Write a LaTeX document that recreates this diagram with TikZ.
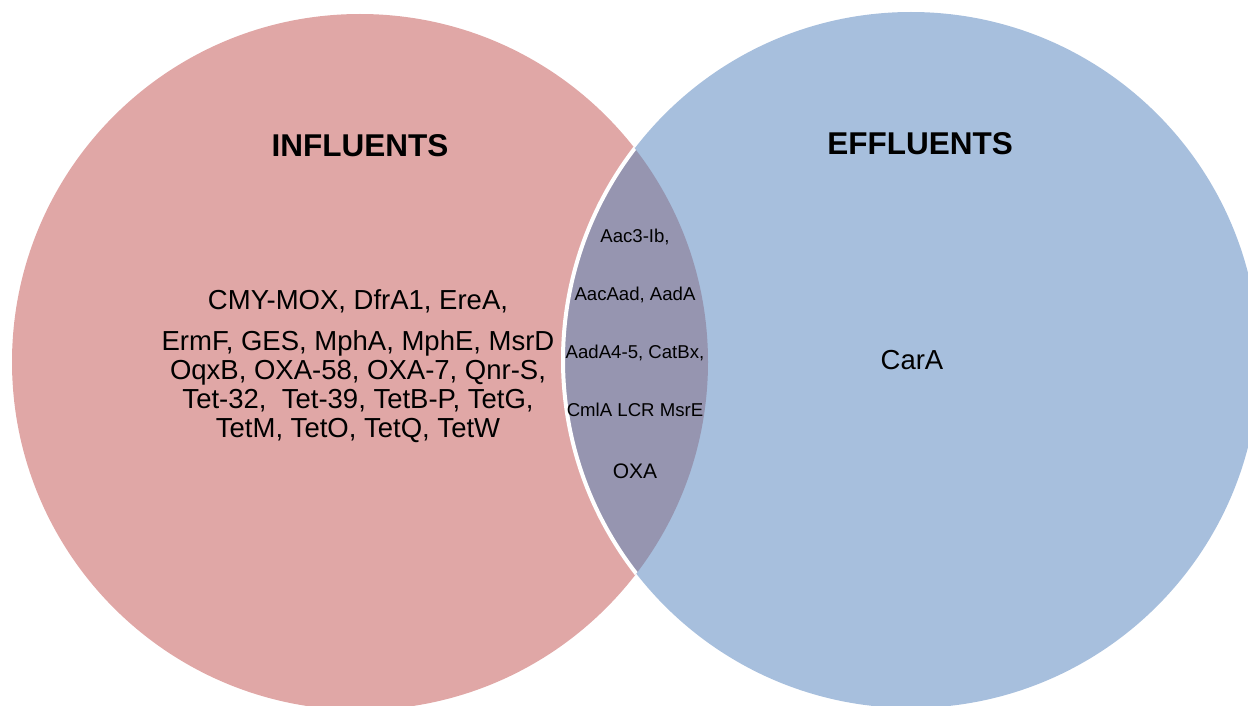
\documentclass[tikz,border=0pt]{standalone}
\usepackage{fontspec}
\setmainfont{Liberation Sans}
\usetikzlibrary{
  positioning,  % Function "of" (e.g. [below=of x])
}
\definecolor{inflcol}{RGB}{224,167,166}
\definecolor{efflcol}{RGB}{167,191,221}
\definecolor{lenscol}{RGB}{150,149,176}
\def\myrad{348pt}
\def\mylensdist{58pt}
\tikzset{
  my title/.style={
    font=\fontsize{31.5}{36}\selectfont\bfseries,
    inner sep=0pt,
    anchor=base
  },
  my list/.style={
    font=\fontsize{27.5}{29}\selectfont,
    align=center,
    inner sep=0pt
  },
  my lens/.style={
    font=\fontsize{18.6}{20}\selectfont,
    inner sep=0pt,
    anchor=base
  },
  white line/.style={
    draw=white,
    line width=4pt
  }
}

\begin{document}
\begin{tikzpicture}[x=1pt,y=-1pt]
\useasboundingbox (0,0) rectangle (1248,706);
\coordinate (infl c) at (360,362);
\coordinate (effl c) at (911,360);
% sets
\fill[inflcol] (infl c) circle[radius=\myrad];
\fill[efflcol] (effl c) circle[radius=\myrad];
\begin{scope}
  \clip (infl c) circle[radius=\myrad];
  \fill[lenscol] (effl c) circle[radius=\myrad];
  \draw[white line] (effl c) circle[radius=\myrad];
\end{scope}
% titles
\node[my title] (infl title) at (360,156.5) {INFLUENTS};
\node[my title] (effl title) at (920,155)   {EFFLUENTS};
% lists
\node[my list,anchor=north] (infl list) at (358,289)
  {CMY-MOX, DfrA1, EreA,\\[12pt]
   ErmF, GES, MphA, MphE, MsrD\\
   OqxB, OXA-58, OXA-7, Qnr-S,\\
   Tet-32,\ \ Tet-39, TetB-P, TetG,\\
   TetM, TetO, TetQ, TetW};
\node[my list,anchor=base] (effl list) at (912,369) {CarA};
\node[my lens] (l1) at (635,242)                                {Aac3-Ib,};
\node[my lens] (l2) [below=\mylensdist of l1.base,anchor=base] {AacAad, AadA};
\node[my lens] (l3) [below=\mylensdist of l2.base,anchor=base] {AadA4-5, CatBx,};
\node[my lens] (l4) [below=\mylensdist of l3.base,anchor=base] {CmlA LCR MsrE};
\node[my lens,font=\fontsize{21}{24}\selectfont]
               (l5) [below=62pt of l4.base,anchor=base]        {OXA};
\end{tikzpicture}
\end{document}
